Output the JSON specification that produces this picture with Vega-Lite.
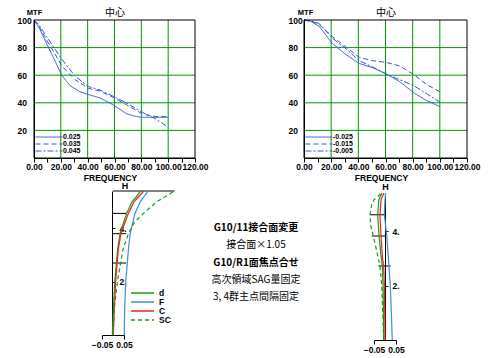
{
  "$schema": "https://vega.github.io/schema/vega-lite/v6.json",
  "width": 492,
  "height": 358,
  "autosize": "none",
  "padding": 0,
  "background": "white",
  "config": {
    "view": {"stroke": null},
    "axis": {"labelFont": "Liberation Sans", "titleFont": "Liberation Sans", "labelFontWeight": "bold", "titleFontWeight": "bold", "labelColor": "black", "titleColor": "black", "domainColor": "black", "tickColor": "black", "grid": false, "labelFlush": false, "labelOverlap": false},
    "legend": {"labelFont": "Liberation Sans", "labelColor": "black", "labelFontWeight": "bold"}
  },
  "datasets": {
    "gridV": [{"g": 20}, {"g": 40}, {"g": 60}, {"g": 80}, {"g": 100}],
    "gridH": [{"g": 20}, {"g": 40}, {"g": 60}, {"g": 80}],
    "mtfL": [
      {"f": 0, "m": 100, "s": "0.025"}, {"f": 4, "m": 94, "s": "0.025"}, {"f": 9.4, "m": 83, "s": "0.025"}, {"f": 15.6, "m": 70.5, "s": "0.025"}, {"f": 20.6, "m": 60, "s": "0.025"}, {"f": 26.8, "m": 52.5, "s": "0.025"}, {"f": 34.3, "m": 48, "s": "0.025"}, {"f": 40.5, "m": 46, "s": "0.025"}, {"f": 49.2, "m": 43.5, "s": "0.025"}, {"f": 59.1, "m": 38.5, "s": "0.025"}, {"f": 69.1, "m": 32, "s": "0.025"}, {"f": 76.5, "m": 30, "s": "0.025"}, {"f": 81, "m": 29.5, "s": "0.025"}, {"f": 90, "m": 29.5, "s": "0.025"}, {"f": 100, "m": 29.5, "s": "0.025"},
      {"f": 0, "m": 100, "s": "0.035"}, {"f": 4, "m": 95, "s": "0.035"}, {"f": 9.4, "m": 85.5, "s": "0.035"}, {"f": 15.6, "m": 75.5, "s": "0.035"}, {"f": 20.6, "m": 66.8, "s": "0.035"}, {"f": 30.6, "m": 56.8, "s": "0.035"}, {"f": 40.5, "m": 50.5, "s": "0.035"}, {"f": 49.2, "m": 48.5, "s": "0.035"}, {"f": 59.9, "m": 43.5, "s": "0.035"}, {"f": 69.1, "m": 38.5, "s": "0.035"}, {"f": 81, "m": 31.8, "s": "0.035"}, {"f": 90.2, "m": 30, "s": "0.035"}, {"f": 100, "m": 30, "s": "0.035"},
      {"f": 0, "m": 100, "s": "0.045"}, {"f": 4, "m": 96, "s": "0.045"}, {"f": 9.4, "m": 88, "s": "0.045"}, {"f": 15.6, "m": 79, "s": "0.045"}, {"f": 20.6, "m": 71.8, "s": "0.045"}, {"f": 30.6, "m": 59.3, "s": "0.045"}, {"f": 40.5, "m": 51.8, "s": "0.045"}, {"f": 49.2, "m": 49.3, "s": "0.045"}, {"f": 59.9, "m": 44.3, "s": "0.045"}, {"f": 69.1, "m": 39.8, "s": "0.045"}, {"f": 81, "m": 33, "s": "0.045"}, {"f": 90.2, "m": 28.5, "s": "0.045"}, {"f": 100, "m": 22.5, "s": "0.045"}
    ],
    "mtfR": [
      {"f": 0, "m": 100, "s": "-0.025"}, {"f": 5, "m": 99, "s": "-0.025"}, {"f": 11.1, "m": 95.5, "s": "-0.025"}, {"f": 20.9, "m": 83, "s": "-0.025"}, {"f": 30.8, "m": 75, "s": "-0.025"}, {"f": 40.6, "m": 68.5, "s": "-0.025"}, {"f": 50.5, "m": 65.5, "s": "-0.025"}, {"f": 60.3, "m": 61, "s": "-0.025"}, {"f": 70.2, "m": 55.5, "s": "-0.025"}, {"f": 80.8, "m": 47.3, "s": "-0.025"}, {"f": 89.9, "m": 41.8, "s": "-0.025"}, {"f": 100, "m": 37.3, "s": "-0.025"},
      {"f": 0, "m": 100, "s": "-0.015"}, {"f": 5, "m": 99.3, "s": "-0.015"}, {"f": 11.1, "m": 96.8, "s": "-0.015"}, {"f": 20.9, "m": 88, "s": "-0.015"}, {"f": 30.8, "m": 80.5, "s": "-0.015"}, {"f": 40.6, "m": 73, "s": "-0.015"}, {"f": 50.5, "m": 70.5, "s": "-0.015"}, {"f": 60.3, "m": 69.3, "s": "-0.015"}, {"f": 70.2, "m": 66.8, "s": "-0.015"}, {"f": 80.8, "m": 60.5, "s": "-0.015"}, {"f": 89.9, "m": 53.5, "s": "-0.015"}, {"f": 100, "m": 48, "s": "-0.015"},
      {"f": 0, "m": 100, "s": "-0.005"}, {"f": 5, "m": 99.5, "s": "-0.005"}, {"f": 11.1, "m": 97.5, "s": "-0.005"}, {"f": 20.9, "m": 86.8, "s": "-0.005"}, {"f": 30.8, "m": 79.3, "s": "-0.005"}, {"f": 40.6, "m": 70.5, "s": "-0.005"}, {"f": 50.5, "m": 66, "s": "-0.005"}, {"f": 60.3, "m": 61, "s": "-0.005"}, {"f": 70.2, "m": 56.8, "s": "-0.005"}, {"f": 80.8, "m": 52.5, "s": "-0.005"}, {"f": 89.9, "m": 46.8, "s": "-0.005"}, {"f": 100, "m": 40.5, "s": "-0.005"}
    ],
    "aberL": [
      {"h": 0, "x": -0.003, "c": "d"}, {"h": 1, "x": 0.002, "c": "d"}, {"h": 2, "x": 0.008, "c": "d"}, {"h": 3.2, "x": 0.021, "c": "d"}, {"h": 3.8, "x": 0.032, "c": "d"}, {"h": 4.56, "x": 0.062, "c": "d"}, {"h": 5.0, "x": 0.087, "c": "d"}, {"h": 5.4, "x": 0.127, "c": "d"},
      {"h": 0, "x": 0.051, "c": "F"}, {"h": 1, "x": 0.053, "c": "F"}, {"h": 2, "x": 0.058, "c": "F"}, {"h": 3.2, "x": 0.07, "c": "F"}, {"h": 3.8, "x": 0.078, "c": "F"}, {"h": 4.56, "x": 0.1, "c": "F"}, {"h": 5.0, "x": 0.124, "c": "F"}, {"h": 5.4, "x": 0.16, "c": "F"},
      {"h": 0, "x": 0.0015, "c": "C"}, {"h": 1, "x": 0.006, "c": "C"}, {"h": 2, "x": 0.012, "c": "C"}, {"h": 3.2, "x": 0.024, "c": "C"}, {"h": 3.8, "x": 0.036, "c": "C"}, {"h": 4.56, "x": 0.07, "c": "C"}, {"h": 5.0, "x": 0.096, "c": "C"}, {"h": 5.4, "x": 0.14, "c": "C"},
      {"h": 0, "x": 0.0, "c": "SC"}, {"h": 1, "x": 0.006, "c": "SC"}, {"h": 2, "x": 0.02, "c": "SC"}, {"h": 3.2, "x": 0.045, "c": "SC"}, {"h": 3.8, "x": 0.07, "c": "SC"}, {"h": 4.2, "x": 0.095, "c": "SC"}, {"h": 4.56, "x": 0.138, "c": "SC"}, {"h": 5.0, "x": 0.2, "c": "SC"}, {"h": 5.4, "x": 0.28, "c": "SC"}
    ],
    "aberR": [
      {"h": 0, "x": -0.006, "c": "d"}, {"h": 1, "x": -0.007, "c": "d"}, {"h": 2, "x": -0.009, "c": "d"}, {"h": 2.72, "x": -0.012, "c": "d"}, {"h": 3.06, "x": -0.018, "c": "d"}, {"h": 3.82, "x": -0.027, "c": "d"}, {"h": 4.6, "x": -0.033, "c": "d"}, {"h": 5.15, "x": -0.028, "c": "d"}, {"h": 5.4, "x": -0.014, "c": "d"},
      {"h": 0, "x": 0.033, "c": "F"}, {"h": 1, "x": 0.029, "c": "F"}, {"h": 2, "x": 0.024, "c": "F"}, {"h": 2.72, "x": 0.018, "c": "F"}, {"h": 3.06, "x": 0.015, "c": "F"}, {"h": 3.82, "x": 0.008, "c": "F"}, {"h": 4.6, "x": -0.003, "c": "F"}, {"h": 5.15, "x": 0.0, "c": "F"}, {"h": 5.4, "x": 0.003, "c": "F"},
      {"h": 0, "x": 0.0, "c": "C"}, {"h": 1, "x": -0.001, "c": "C"}, {"h": 2, "x": -0.003, "c": "C"}, {"h": 2.72, "x": -0.006, "c": "C"}, {"h": 3.06, "x": -0.012, "c": "C"}, {"h": 3.82, "x": -0.018, "c": "C"}, {"h": 4.6, "x": -0.023, "c": "C"}, {"h": 5.15, "x": -0.018, "c": "C"}, {"h": 5.4, "x": -0.005, "c": "C"},
      {"h": 0, "x": -0.006, "c": "SC"}, {"h": 1, "x": -0.01, "c": "SC"}, {"h": 2, "x": -0.015, "c": "SC"}, {"h": 2.72, "x": -0.023, "c": "SC"}, {"h": 3.06, "x": -0.032, "c": "SC"}, {"h": 3.82, "x": -0.053, "c": "SC"}, {"h": 4.2, "x": -0.065, "c": "SC"}, {"h": 4.6, "x": -0.068, "c": "SC"}, {"h": 5.0, "x": -0.06, "c": "SC"}, {"h": 5.15, "x": -0.05, "c": "SC"}, {"h": 5.4, "x": -0.015, "c": "SC"}
    ],
    "hlL": [{"h": 5.4, "x1": 0, "x2": 0.28}, {"h": 4.56, "x1": 0, "x2": 0.06}, {"h": 3.8, "x1": 0, "x2": 0.06}, {"h": 2.7, "x1": 0, "x2": 0.06}],
    "hlR": [{"h": 4.6, "x1": -0.068, "x2": 0.0}, {"h": 3.82, "x1": -0.06, "x2": 0.0}, {"h": 2.72, "x1": -0.03, "x2": 0.025}],
    "notes": [
      {"i": 1, "t": "G10/11接合面変更"},
      {"i": 2, "t": "接合面×1.05"},
      {"i": 3, "t": "G10/R1面焦点合せ"},
      {"i": 4, "t": "高次領域SAG量固定"},
      {"i": 5, "t": "3, 4群主点間隔固定"}
    ]
  },
  "resolve": {
    "scale": {"x": "independent", "y": "independent", "color": "independent", "strokeDash": "independent"},
    "axis": {"x": "independent", "y": "independent"},
    "legend": {"color": "independent", "strokeDash": "independent"}
  },
  "layer": [
    {
      "layer": [
        {
          "data": {"name": "gridV"},
          "mark": {"type": "rule", "color": "#009a00", "strokeWidth": 1},
          "encoding": {
            "x": {"field": "g", "type": "quantitative", "scale": {"domain": [0, 120], "range": [34, 195], "nice": false, "zero": false},
              "axis": {"orient": "bottom", "offset": -200, "values": [0, 10, 20, 30, 40, 50, 60, 70, 80, 90, 100, 110, 120], "labelExpr": "datum.value % 20 === 0 ? format(datum.value, '.2f') : ''", "labelFontSize": 8.5, "tickSize": 4, "labelPadding": 0, "title": "FREQUENCY", "titleFontSize": 8.5, "titleX": 110, "titleY": 22, "titleAlign": "center", "titleBaseline": "alphabetic"}},
            "y": {"datum": 0, "type": "quantitative", "scale": {"domain": [0, 100], "range": [158, 20], "nice": false, "zero": false},
              "axis": {"orient": "left", "offset": -34, "values": [20, 40, 60, 80, 100], "ticks": false, "tickSize": 0, "labelPadding": 17, "labelAlign": "left", "labelFontSize": 8.5, "title": "MTF", "titleAngle": 0, "titleX": 0, "titleY": 14, "titleAlign": "center", "titleBaseline": "alphabetic", "titleFontSize": 7.5}},
            "y2": {"datum": 100}
          }
        },
        {
          "data": {"name": "gridH"},
          "mark": {"type": "rule", "color": "#009a00", "strokeWidth": 1},
          "encoding": {
            "y": {"field": "g", "type": "quantitative", "title": "MTF"},
            "x": {"datum": 0, "type": "quantitative", "title": "FREQUENCY"},
            "x2": {"datum": 120}
          }
        },
        {
          "data": {"name": "mtfL"},
          "mark": {"type": "line", "color": "#3355dd", "strokeWidth": 1},
          "encoding": {
            "x": {"field": "f", "type": "quantitative", "title": "FREQUENCY"},
            "y": {"field": "m", "type": "quantitative", "title": "MTF"},
            "strokeDash": {"field": "s", "type": "nominal",
              "scale": {"domain": ["0.025", "0.035", "0.045"], "range": [[1, 0], [5, 3], [6, 2, 2, 2]]},
              "legend": {"orient": "none", "legendX": 35, "legendY": 134, "title": null, "symbolType": "stroke", "symbolSize": 729, "symbolStrokeColor": "#3355dd", "symbolStrokeWidth": 1, "clipHeight": 6, "rowPadding": 0, "labelFontSize": 7, "labelOffset": 0, "padding": 0}}
          }
        }
      ]
    },
    {
      "data": {"values": [{}]},
      "mark": {"type": "rect", "filled": false, "stroke": "black", "strokeWidth": 1},
      "encoding": {
        "x": {"datum": 0, "type": "quantitative", "scale": {"domain": [0, 120], "range": [34, 195], "nice": false, "zero": false},
          "axis": {"orient": "top", "offset": -20, "labels": false, "ticks": false, "domain": false, "title": "中心", "titleFont": "Noto Sans CJK JP", "titleFontWeight": "normal", "titleFontSize": 10, "titleX": 114.5, "titleY": -4.5, "titleAlign": "center", "titleBaseline": "alphabetic"}},
        "x2": {"datum": 120},
        "y": {"datum": 0, "type": "quantitative", "scale": {"domain": [0, 100], "range": [158, 20], "nice": false, "zero": false}, "axis": null},
        "y2": {"datum": 100}
      }
    },
    {
      "layer": [
        {
          "data": {"name": "gridV"},
          "mark": {"type": "rule", "color": "#009a00", "strokeWidth": 1},
          "encoding": {
            "x": {"field": "g", "type": "quantitative", "scale": {"domain": [0, 120], "range": [304, 467], "nice": false, "zero": false},
              "axis": {"orient": "bottom", "offset": -200, "values": [0, 10, 20, 30, 40, 50, 60, 70, 80, 90, 100, 110, 120], "labelExpr": "datum.value % 20 === 0 ? format(datum.value, '.2f') : ''", "labelFontSize": 8.5, "tickSize": 4, "labelPadding": 0, "title": "FREQUENCY", "titleFontSize": 8.5, "titleX": 381, "titleY": 22, "titleAlign": "center", "titleBaseline": "alphabetic"}},
            "y": {"datum": 0, "type": "quantitative", "scale": {"domain": [0, 100], "range": [158, 20], "nice": false, "zero": false},
              "axis": {"orient": "left", "offset": -304, "values": [20, 40, 60, 80, 100], "ticks": false, "tickSize": 0, "labelPadding": 16, "labelAlign": "left", "labelFontSize": 8.5, "title": "MTF", "titleAngle": 0, "titleX": 1, "titleY": 14, "titleAlign": "center", "titleBaseline": "alphabetic", "titleFontSize": 7.5}},
            "y2": {"datum": 100}
          }
        },
        {
          "data": {"name": "gridH"},
          "mark": {"type": "rule", "color": "#009a00", "strokeWidth": 1},
          "encoding": {
            "y": {"field": "g", "type": "quantitative", "title": "MTF"},
            "x": {"datum": 0, "type": "quantitative", "title": "FREQUENCY"},
            "x2": {"datum": 120}
          }
        },
        {
          "data": {"name": "mtfR"},
          "mark": {"type": "line", "color": "#3355dd", "strokeWidth": 1},
          "encoding": {
            "x": {"field": "f", "type": "quantitative", "title": "FREQUENCY"},
            "y": {"field": "m", "type": "quantitative", "title": "MTF"},
            "strokeDash": {"field": "s", "type": "nominal",
              "scale": {"domain": ["-0.025", "-0.015", "-0.005"], "range": [[1, 0], [5, 3], [6, 2, 2, 2]]},
              "legend": {"orient": "none", "legendX": 305, "legendY": 134, "title": null, "symbolType": "stroke", "symbolSize": 729, "symbolStrokeColor": "#3355dd", "symbolStrokeWidth": 1, "clipHeight": 6, "rowPadding": 0, "labelFontSize": 7, "labelOffset": 0, "padding": 0}}
          }
        }
      ]
    },
    {
      "data": {"values": [{}]},
      "mark": {"type": "rect", "filled": false, "stroke": "black", "strokeWidth": 1},
      "encoding": {
        "x": {"datum": 0, "type": "quantitative", "scale": {"domain": [0, 120], "range": [304, 467], "nice": false, "zero": false},
          "axis": {"orient": "top", "offset": -20, "labels": false, "ticks": false, "domain": false, "title": "中心", "titleFont": "Noto Sans CJK JP", "titleFontWeight": "normal", "titleFontSize": 10, "titleX": 385.5, "titleY": -4.5, "titleAlign": "center", "titleBaseline": "alphabetic"}},
        "x2": {"datum": 120},
        "y": {"datum": 0, "type": "quantitative", "scale": {"domain": [0, 100], "range": [158, 20], "nice": false, "zero": false}, "axis": null},
        "y2": {"datum": 100}
      }
    },
    {
      "layer": [
        {
          "data": {"name": "hlL"},
          "mark": {"type": "rule", "color": "black", "strokeWidth": 1},
          "encoding": {
            "x": {"field": "x1", "type": "quantitative", "scale": {"domain": [-0.05, 0.05], "range": [102, 124], "nice": false, "zero": false},
              "axis": {"orient": "bottom", "offset": -23, "values": [-0.05, 0.05], "format": ".2f", "labelFontSize": 8.5, "tickSize": 4, "labelPadding": 1, "title": null}},
            "x2": {"field": "x2"},
            "y": {"field": "h", "type": "quantitative", "scale": {"domain": [0, 5.4], "range": [335, 191], "nice": false, "zero": false},
              "axis": {"orient": "right", "offset": -380, "values": [2, 4], "labelExpr": "datum.value + '.'", "tickSize": 3, "labelPadding": 4, "labelFontSize": 8.5, "title": "H", "titleAngle": 0, "titleX": 12.5, "titleY": 188, "titleAlign": "center", "titleBaseline": "alphabetic", "titleFontSize": 9}}
          }
        },
        {
          "data": {"name": "aberL"},
          "mark": {"type": "line", "strokeWidth": 1.2},
          "encoding": {
            "x": {"field": "x", "type": "quantitative", "title": null},
            "y": {"field": "h", "type": "quantitative", "title": "H"},
            "order": {"field": "h"},
            "color": {"field": "c", "type": "nominal", "scale": {"domain": ["d", "F", "C", "SC"], "range": ["#1a9a1a", "#3d8fd6", "#ee2222", "#1a9a1a"]},
              "legend": {"orient": "none", "legendX": 130, "legendY": 289, "title": null, "symbolType": "stroke", "symbolSize": 529, "symbolStrokeWidth": 1.3, "clipHeight": 8, "rowPadding": 0, "labelFontSize": 8.5, "labelOffset": 4, "padding": 0}},
            "strokeDash": {"field": "c", "type": "nominal", "scale": {"domain": ["d", "F", "C", "SC"], "range": [[1, 0], [1, 0], [1, 0], [4, 3]]},
              "legend": {"orient": "none", "legendX": 130, "legendY": 289, "title": null, "symbolType": "stroke", "symbolSize": 529, "symbolStrokeWidth": 1.3, "clipHeight": 8, "rowPadding": 0, "labelFontSize": 8.5, "labelOffset": 4, "padding": 0}}
          }
        }
      ]
    },
    {
      "layer": [
        {
          "data": {"name": "hlR"},
          "mark": {"type": "rule", "color": "black", "strokeWidth": 1},
          "encoding": {
            "x": {"field": "x1", "type": "quantitative", "scale": {"domain": [-0.05, 0.05], "range": [374, 396], "nice": false, "zero": false},
              "axis": {"orient": "bottom", "offset": -18, "values": [-0.05, 0.05], "format": ".2f", "labelFontSize": 8.5, "tickSize": 4, "labelPadding": 1, "title": null}},
            "x2": {"field": "x2"},
            "y": {"field": "h", "type": "quantitative", "scale": {"domain": [0, 5.4], "range": [340, 193], "nice": false, "zero": false},
              "axis": {"orient": "right", "offset": -107, "values": [2, 4], "labelExpr": "datum.value + '.'", "tickSize": 3, "labelPadding": 4, "labelFontSize": 8.5, "title": "H", "titleAngle": 0, "titleX": 0, "titleY": 189, "titleAlign": "center", "titleBaseline": "alphabetic", "titleFontSize": 9}}
          }
        },
        {
          "data": {"name": "aberR"},
          "mark": {"type": "line", "strokeWidth": 1.2},
          "encoding": {
            "x": {"field": "x", "type": "quantitative", "title": null},
            "y": {"field": "h", "type": "quantitative", "title": "H"},
            "order": {"field": "h"},
            "color": {"field": "c", "type": "nominal", "scale": {"domain": ["d", "F", "C", "SC"], "range": ["#1a9a1a", "#3d8fd6", "#ee2222", "#1a9a1a"]}, "legend": null},
            "strokeDash": {"field": "c", "type": "nominal", "scale": {"domain": ["d", "F", "C", "SC"], "range": [[1, 0], [1, 0], [1, 0], [4, 3]]}, "legend": null}
          }
        }
      ]
    },
    {
      "data": {"name": "notes"},
      "layer": [
        {
          "transform": [{"filter": {"field": "i", "oneOf": [1, 3]}}],
          "mark": {"type": "text", "font": "Noto Sans CJK JP", "fontSize": 10, "fontWeight": "bold", "color": "black", "align": "center", "baseline": "middle"},
          "encoding": {
            "x": {"datum": 0, "type": "quantitative", "scale": {"domain": [-1, 1], "range": [214, 298]}, "axis": null},
            "y": {"field": "i", "type": "quantitative", "scale": {"domain": [1, 5], "range": [228, 297], "nice": false, "zero": false}, "axis": null},
            "text": {"field": "t"}
          }
        },
        {
          "transform": [{"filter": {"not": {"field": "i", "oneOf": [1, 3]}}}],
          "mark": {"type": "text", "font": "Noto Sans CJK JP", "fontSize": 10, "fontWeight": "normal", "color": "black", "align": "center", "baseline": "middle"},
          "encoding": {
            "x": {"datum": 0, "type": "quantitative", "axis": null},
            "y": {"field": "i", "type": "quantitative", "axis": null},
            "text": {"field": "t"}
          }
        }
      ]
    }
  ]
}
